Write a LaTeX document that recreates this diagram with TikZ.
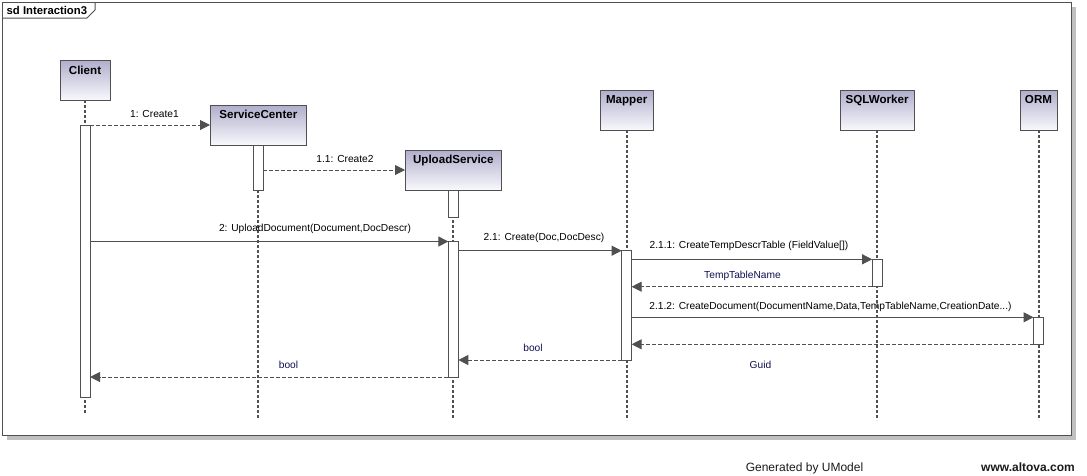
\documentclass[tikz,border=0pt]{standalone}
\usepackage{fontspec}
\setmainfont{Liberation Sans}
\usetikzlibrary{arrows.meta}
\definecolor{ink}{HTML}{505050}
\definecolor{boxtop}{RGB}{176,174,204}
\definecolor{boxbot}{RGB}{248,248,252}
\definecolor{shadowgray}{RGB}{192,192,192}
\definecolor{retlabel}{RGB}{16,16,80}
\definecolor{foot}{RGB}{26,26,26}

\begin{document}
\begin{tikzpicture}[x=1pt,y=-1pt,
  lifebox/.style={draw=ink, line width=1pt, top color=boxtop, bottom color=boxbot,
    minimum height=40, inner sep=0, outer sep=0, anchor=north west},
  act/.style={draw=ink, fill=white, line width=1pt, minimum width=10,
    inner sep=0, outer sep=0, anchor=north},
  lifeline/.style={draw=ink, line width=2pt, dash pattern=on 3pt off 2pt},
  call/.style={draw=ink, line width=1pt, -{Triangle[length=10pt,width=10pt]}},
  create/.style={call, dash pattern=on 4pt off 2pt},
  reply/.style={call, dash pattern=on 4pt off 2pt},
  msglabel/.style={anchor=base, inner sep=0, font=\fontsize{10.2}{12}\selectfont},
  replylabel/.style={msglabel, text=retlabel},
  boxtitle/.style={anchor=base, inner sep=0, font=\fontsize{11.6}{13}\selectfont\bfseries},
  footer/.style={anchor=base, inner sep=0, text=foot, font=\fontsize{12}{14}\selectfont},
]
\useasboundingbox (0,0) rectangle (1087,475);

% interaction frame with its drop shadow
\fill[shadowgray] (7,7) rectangle (1076,440);
\node[draw=ink, fill=white, line width=1pt, minimum width=1069, minimum height=433,
  inner sep=0, outer sep=0, anchor=north west] (frame) at (2,2) {};
\draw[ink, line width=1pt] (2,18) -- (87,18) -- (95,10) -- (95,2);
\node[anchor=base west, inner sep=0, font=\fontsize{11.3}{13}\selectfont\bfseries]
  (frametitle) at (6.5,14) {sd Interaction3};

% lifeline heads
\node[lifebox, minimum width=50]   (client) at (60,60)   {};
\node[lifebox, minimum width=96.7] (sc)     at (210,105) {};
\node[lifebox, minimum width=96.7] (us)     at (405,150) {};
\node[lifebox, minimum width=53.3] (mapper) at (600,90)  {};
\node[lifebox, minimum width=74.3] (sql)    at (840,90)  {};
\node[lifebox, minimum width=37]   (orm)    at (1020,90) {};

\node[boxtitle] (tclient) at ([yshift=-14pt]client.north) {Client};
\node[boxtitle] (tsc)     at ([yshift=-13.5pt]sc.north)   {ServiceCenter};
\node[boxtitle] (tus)     at ([yshift=-13.5pt]us.north)   {UploadService};
\node[boxtitle] (tmapper) at ([yshift=-13.5pt]mapper.north) {Mapper};
\node[boxtitle] (tsql)    at ([yshift=-13.5pt]sql.north)  {SQLWorker};
\node[boxtitle] (torm)    at ([yshift=-13.5pt]orm.north)  {ORM};

% lifeline ends
\coordinate (endC) at (client.south |- 0,414);
\coordinate (endS) at (sc.south |- 0,418);
\coordinate (endU) at (us.south |- 0,419);
\coordinate (endM) at (mapper.south |- 0,420);
\coordinate (endQ) at (sql.south |- 0,420);
\coordinate (endO) at (orm.south |- 0,420);

\draw[lifeline] (client) -- (endC);
\draw[lifeline] (sc) -- (endS);
\draw[lifeline] (us) -- (endU);
\draw[lifeline] (mapper) -- (endM);
\draw[lifeline] (sql) -- (endQ);
\draw[lifeline] (orm) -- (endO);

% activation bars
\node[act, minimum height=272]   (aC)  at (client.south |- 0,125) {};
\node[act, minimum height=45]    (aS)  at (sc.south |- 0,145)     {};
\node[act, minimum height=27.7]  (aU1) at (us.south |- 0,190)     {};
\node[act, minimum height=135.5] (aU2) at (us.south |- 0,241.5)   {};
\node[act, minimum height=109.3] (aM)  at (mapper.south |- 0,250.7) {};
\node[act, minimum height=27.4]  (aQ)  at (sql.south |- 0,259.3)  {};
\node[act, minimum height=27]    (aO)  at (orm.south |- 0,317.3)  {};

% messages
\draw[create] (aC.north east) -- (sc.west);
\draw[create] (aS.east |- us.west) -- (us.west);
\draw[call]   (aC.east |- aU2.north) -- (aU2.north west);
\draw[call]   (aU2.east |- aM.north) -- (aM.north west);
\draw[call]   (aM.east |- aQ.north) -- (aQ.north west);
\draw[reply]  (aQ.south west) -- (aM.east |- aQ.south);
\draw[call]   (aM.east |- aO.north) -- (aO.north west);
\draw[reply]  (aO.south west) -- (aM.east |- aO.south);
\draw[reply]  (aM.south west) -- (aU2.east |- aM.south);
\draw[reply]  (aU2.south west) -- (aC.east |- aU2.south);

% message labels
\node[msglabel] (l1)   at (154.5,117) {1: Create1};
\node[msglabel] (l11)  at (345,162)   {1.1: Create2};
\node[msglabel] (l2)   at (315,231)   {2: UploadDocument(Document,DocDescr)};
\node[msglabel] (l21)  at (544,240)   {2.1: Create(Doc,DocDesc)};
\node[msglabel] (l211) at (749,248.5) {2.1.1: CreateTempDescrTable (FieldValue[])};
\node[replylabel] (r211) at (742.5,278.5) {TempTableName};
\node[msglabel] (l212) at (830.5,309) {2.1.2: CreateDocument(DocumentName,Data,TempTableName,CreationDate...)};
\node[replylabel] (r212) at (760.5,368) {Guid};
\node[replylabel] (r21)  at (533,351)   {bool};
\node[replylabel] (r2)   at (288.5,368) {bool};

% footer
\node[footer] (gen) at (804.5,471) {Generated by UModel};
\node[footer, font=\fontsize{12}{14}\selectfont\bfseries] (site) at (1028,471) {www.altova.com};
\end{tikzpicture}
\end{document}
